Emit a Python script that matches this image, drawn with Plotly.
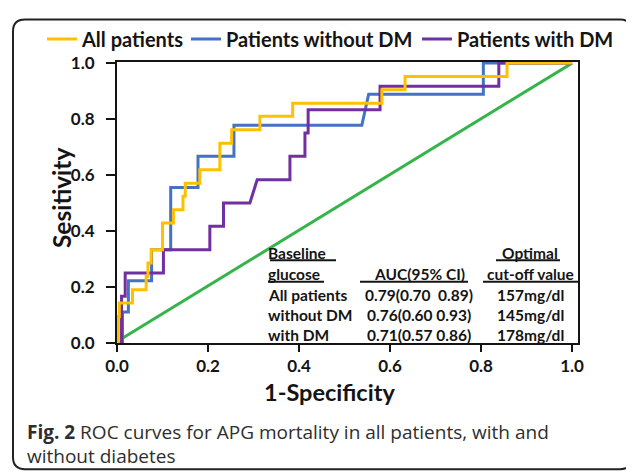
import plotly.graph_objects as go

# ---------------- data ----------------
ALL_X = [0, 0.003, 0.003, 0.005, 0.005, 0.034, 0.034, 0.064, 0.064, 0.068, 0.068, 0.075, 0.075,
         0.100, 0.100, 0.124, 0.124, 0.145, 0.145, 0.150, 0.150, 0.182, 0.182, 0.226, 0.226,
         0.252, 0.252, 0.314, 0.314, 0.386, 0.386, 0.582, 0.582, 0.633, 0.633, 0.857, 0.857, 1.0]
ALL_Y = [0, 0, 0.095, 0.095, 0.143, 0.143, 0.190, 0.190, 0.238, 0.238, 0.286, 0.286, 0.333,
         0.333, 0.429, 0.429, 0.476, 0.476, 0.524, 0.524, 0.571, 0.571, 0.619, 0.619, 0.714,
         0.714, 0.762, 0.762, 0.810, 0.810, 0.857, 0.857, 0.905, 0.905, 0.952, 0.952, 1.0, 1.0]

NODM_X = [0, 0.012, 0.012, 0.025, 0.025, 0.076, 0.076, 0.118, 0.118, 0.178, 0.178, 0.257, 0.257,
          0.538, 0.553, 0.805, 0.805, 1.0]
NODM_Y = [0, 0, 0.111, 0.111, 0.222, 0.222, 0.333, 0.333, 0.556, 0.556, 0.667, 0.667, 0.778,
          0.778, 0.889, 0.889, 1.0, 1.0]

DM_X = [0, 0.010, 0.010, 0.018, 0.018, 0.102, 0.102, 0.204, 0.204, 0.234, 0.234, 0.292, 0.308,
        0.380, 0.380, 0.413, 0.413, 0.420, 0.420, 0.578, 0.578, 0.839, 0.839, 1.0]
DM_Y = [0, 0, 0.167, 0.167, 0.250, 0.250, 0.333, 0.333, 0.417, 0.417, 0.500, 0.500, 0.583,
        0.583, 0.667, 0.667, 0.750, 0.750, 0.833, 0.833, 0.917, 0.917, 1.0, 1.0]

REF_X = [0.010, 1.0]
REF_Y = [0.015, 1.0]

SERIES_NAMES = ["All patients", "Patients without DM", "Patients with DM"]
TICK_VALS = [0.0, 0.2, 0.4, 0.6, 0.8, 1.0]
TICK_TEXT = ["0.0", "0.2", "0.4", "0.6", "0.8", "1.0"]

TABLE_COL1 = ["Baseline", "glucose", "All patients", "without DM", "with DM"]
TABLE_COL2 = ["", "AUC(95% CI)", "0.79(0.70  0.89)", "0.76(0.60 0.93)", "0.71(0.57 0.86)"]
TABLE_COL3 = ["Optimal", "cut-off value", "157mg/dl", "145mg/dl", "178mg/dl"]

# ---------------- layout helpers ----------------
W, H = 634, 474
OFF = 8                      # page body margin applied by the browser
L, R, T, B = 117, 578, 58, 343  # plot area in reference pixels


def fx(px):
    return (px - L) / (R - L)


def fy(py):
    return (B - py) / (B - T)


FONT = "Lato"
INK = "#141414"

fig = go.Figure()

fig.add_trace(go.Scatter(x=REF_X, y=REF_Y, mode="lines", showlegend=False,
                         line=dict(color="#35B44A", width=3), hoverinfo="skip"))
fig.add_trace(go.Scatter(x=NODM_X, y=NODM_Y, mode="lines", name=SERIES_NAMES[1], legend="legend2",
                         line=dict(color="#4472C4", width=3)))
fig.add_trace(go.Scatter(x=DM_X, y=DM_Y, mode="lines", name=SERIES_NAMES[2], legend="legend3",
                         line=dict(color="#7030A0", width=3)))
fig.add_trace(go.Scatter(x=ALL_X, y=ALL_Y, mode="lines", name=SERIES_NAMES[0], legend="legend",
                         line=dict(color="#FFC000", width=3)))

axis_common = dict(
    showgrid=False, zeroline=False, showline=True, linecolor=INK, linewidth=2,
    mirror=True, ticks="outside", tickcolor=INK, tickwidth=2,
    tickvals=TICK_VALS, ticktext=TICK_TEXT,
    tickfont=dict(family=FONT, size=17, color=INK, weight="bold"),
    layer="below traces",
)

fig.update_xaxes(range=[0, 1.013], ticklen=7, **axis_common)
fig.update_yaxes(range=[0, 1.004], ticklen=9, ticklabelstandoff=8, **axis_common)


def note(px, py, text, font, xanchor="center", **kw):
    return dict(x=fx(px), y=fy(py), xref="paper", yref="paper", xanchor=xanchor, yanchor="middle",
                text=text, showarrow=False, font=font, **kw)


annotations = []
# axis titles
annotations.append(note(329, 393, "<b>1-Specificity</b>", dict(family=FONT, size=23.5, color=INK)))
annotations.append(note(61, 196, "<b>Sesitivity</b>", dict(family=FONT, size=24.5, color=INK), textangle=-90))

# table
row_y = [252, 273, 294, 315, 335]
tfont = dict(family=FONT, size=15.5, color=INK)
for i, ry in enumerate(row_y):
    if TABLE_COL1[i]:
        annotations.append(note(266, ry, "<b>%s</b>" % TABLE_COL1[i], tfont, xanchor="left"))
    if TABLE_COL2[i]:
        annotations.append(note(419, ry, "<b>%s</b>" % TABLE_COL2[i], tfont))
    if TABLE_COL3[i]:
        annotations.append(note(530, ry, "<b>%s</b>" % TABLE_COL3[i], tfont))

# caption
cfont = dict(family="Open Sans", size=19, color="#2e2e2e")
annotations.append(note(25, 433, "<b>Fig. 2</b> ROC curves for APG mortality in all patients, with and",
                        cfont, xanchor="left"))
annotations.append(note(25, 458, "without diabetes", cfont, xanchor="left"))

shapes = []
# underlines in the table
for (x0, x1, yy) in [(270, 336, 259), (268, 324, 281), (360, 468, 281), (496, 560, 259), (483, 578, 281)]:
    shapes.append(dict(type="line", xref="paper", yref="paper", x0=fx(x0), x1=fx(x1), y0=fy(yy), y1=fy(yy),
                       line=dict(color=INK, width=2)))

# rounded outer frame
lf, tp, rt, bt, rr = 13, 15, 632, 471, 12
path = ("M {a},{b} L {c},{b} Q {d},{b} {d},{e} L {d},{f} Q {d},{g} {c},{g} L {a},{g} Q {h},{g} {h},{f} "
        "L {h},{e} Q {h},{b} {a},{b} Z").format(
    a=fx(lf + rr), b=fy(tp), c=fx(rt - rr), d=fx(rt), e=fy(tp + rr), f=fy(bt - rr), g=fy(bt), h=fx(lf))
shapes.append(dict(type="path", xref="paper", yref="paper", path=path, line=dict(color="#222222", width=2)))

legend_font = dict(family=FONT, size=20, color=INK, weight="bold")


def legend_at(px):
    return dict(orientation="h", x=fx(px), y=fy(15), xanchor="left", yanchor="top",
                font=legend_font, itemwidth=30, bgcolor="rgba(0,0,0,0)")


fig.update_layout(
    width=W, height=H,
    margin=dict(l=L - OFF, r=W - (R - OFF), t=T - OFF, b=H - (B - OFF)),
    paper_bgcolor="white", plot_bgcolor="white",
    showlegend=True,
    legend=legend_at(42),
    legend2=legend_at(186),
    legend3=legend_at(417),
    annotations=annotations,
    shapes=shapes,
)

fig.write_html("out.html")
